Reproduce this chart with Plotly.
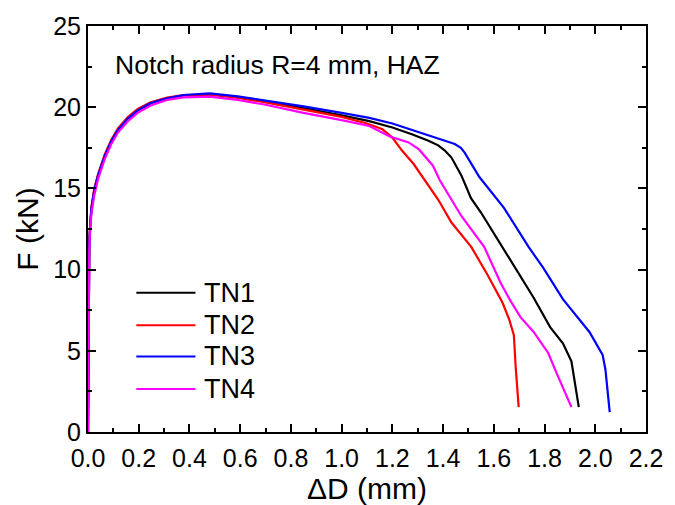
import plotly.graph_objects as go

# ---- data ----
rise_x = [0, 0.002, 0.005, 0.009, 0.014, 0.025, 0.04, 0.066, 0.092, 0.118, 0.157, 0.196,
          0.247, 0.312, 0.377, 0.48]

tn1_x = rise_x + [0.6, 0.7, 0.85, 1.0, 1.109, 1.2, 1.277, 1.34, 1.381, 1.407, 1.433, 1.472,
                  1.51, 1.55, 1.634, 1.692, 1.757, 1.822, 1.873, 1.906, 1.923, 1.935]
tn1_y = [0, 5, 11.5, 12.8, 13.8, 14.9, 15.8, 17.0, 17.9, 18.6, 19.3, 19.8, 20.25, 20.55,
         20.72, 20.78,
         20.6, 20.35, 19.95, 19.5, 19.14, 18.75, 18.34, 17.95, 17.65, 17.33, 16.9, 15.8,
         14.4, 13.5, 11.4, 9.88, 8.27, 6.46, 5.45, 4.35, 2.84, 1.53]

tn2_x = rise_x + [0.6, 0.7, 0.85, 1.0, 1.1, 1.161, 1.2, 1.238, 1.284, 1.329, 1.381, 1.433,
                  1.511, 1.575, 1.634, 1.66, 1.679, 1.686, 1.698]
tn2_y = [0, 5, 11.6, 12.9, 13.9, 15.0, 15.9, 17.1, 18.0, 18.7, 19.4, 19.9, 20.3, 20.6,
         20.75, 20.78,
         20.55, 20.3, 19.85, 19.4, 19.0, 18.64, 18.13, 17.33, 16.5, 15.5, 14.3, 12.9,
         11.4, 9.68, 7.97, 6.96, 5.96, 4.05, 1.53]

tn3_x = rise_x + [0.59, 0.7, 0.85, 1.0, 1.109, 1.2, 1.368, 1.446, 1.47, 1.485, 1.543, 1.588,
                  1.64, 1.737, 1.795, 1.873, 1.925, 1.977, 2.029, 2.04, 2.057]
tn3_y = [0, 5, 11.5, 12.8, 13.8, 14.9, 15.8, 17.0, 17.9, 18.6, 19.3, 19.8, 20.25, 20.55,
         20.75, 20.85,
         20.67, 20.4, 20.05, 19.65, 19.34, 19.0, 18.13, 17.73, 17.5, 17.2, 15.7, 14.8,
         13.8, 11.4, 10.1, 8.17, 7.17, 6.16, 4.75, 3.85, 1.23]

tn4_x = rise_x + [0.59, 0.7, 0.85, 1.0, 1.109, 1.19, 1.264, 1.305, 1.36, 1.387, 1.426, 1.472,
                  1.562, 1.627, 1.666, 1.705, 1.757, 1.815, 1.847, 1.88, 1.906]
tn4_y = [0, 5, 11.3, 12.6, 13.5, 14.6, 15.6, 16.8, 17.73, 18.44, 19.14, 19.65, 20.1, 20.45,
         20.6, 20.65,
         20.45, 20.15, 19.65, 19.2, 18.84, 18.2, 17.83, 17.4, 16.4, 15.5, 14.5, 13.3,
         11.4, 9.18, 8.07, 7.07, 6.16, 4.85, 3.64, 2.43, 1.53]

series_names = ["TN1", "TN2", "TN3", "TN4"]
series_x = [tn1_x, tn2_x, tn3_x, tn4_x]
series_y = [tn1_y, tn2_y, tn3_y, tn4_y]
colors = ["#000000", "#ff0000", "#0000ff", "#ff00ff"]

x_ticks = [0.0, 0.2, 0.4, 0.6, 0.8, 1.0, 1.2, 1.4, 1.6, 1.8, 2.0, 2.2]
y_ticks = [0, 5, 10, 15, 20, 25]

FONT = "Liberation Sans, Arial, sans-serif"

fig = go.Figure()
for name, xs, ys, c in zip(series_names, series_x, series_y, colors):
    fig.add_trace(go.Scatter(x=xs, y=ys, mode="lines", name=name,
                             line=dict(color=c, width=2.2), showlegend=False))

# custom legend (paper coordinates)
leg_y = [0.343, 0.263, 0.186, 0.106]
for name, c, yy in zip(series_names, colors, leg_y):
    fig.add_shape(type="line", xref="paper", yref="paper", x0=0.0866, x1=0.1926,
                  y0=yy, y1=yy, line=dict(color=c, width=2))
    fig.add_annotation(xref="paper", yref="paper", x=0.2050, y=yy, text=name,
                       showarrow=False, xanchor="left", yanchor="middle",
                       font=dict(family=FONT, size=27, color="black"))

fig.add_annotation(xref="paper", yref="paper", x=0.044, y=0.903,
                   text="Notch radius R=4 mm, HAZ", showarrow=False,
                   xanchor="left", yanchor="middle",
                   font=dict(family=FONT, size=26.5, color="black"))

axis_common = dict(showline=True, linecolor="black", linewidth=2, mirror="allticks",
                   ticks="inside", ticklen=8, tickwidth=1.5, tickcolor="black",
                   showgrid=False, zeroline=False,
                   tickfont=dict(family=FONT, size=25, color="black"))

fig.update_xaxes(range=[0, 2.2], tickvals=x_ticks, ticktext=[f"{v:.1f}" for v in x_ticks],
                 ticklabelstandoff=3,
                 minor=dict(dtick=0.1, ticks="inside", ticklen=4, tickwidth=1.5,
                            tickcolor="black", showgrid=False),
                 title=dict(text="ΔD (mm)", font=dict(family=FONT, size=30, color="black"),
                            standoff=0),
                 **axis_common)
fig.update_yaxes(range=[0, 25], tickvals=y_ticks, ticktext=[str(v) for v in y_ticks],
                 minor=dict(dtick=2.5, ticks="inside", ticklen=4, tickwidth=1.5,
                            tickcolor="black", showgrid=False),
                 title=dict(text="F (kN)", font=dict(family=FONT, size=30, color="black"),
                            standoff=6),
                 **axis_common)

fig.update_layout(width=675, height=505, plot_bgcolor="white", paper_bgcolor="white",
                  margin=dict(l=88, r=21, t=23, b=68), showlegend=False)

fig.write_html("out.html")
